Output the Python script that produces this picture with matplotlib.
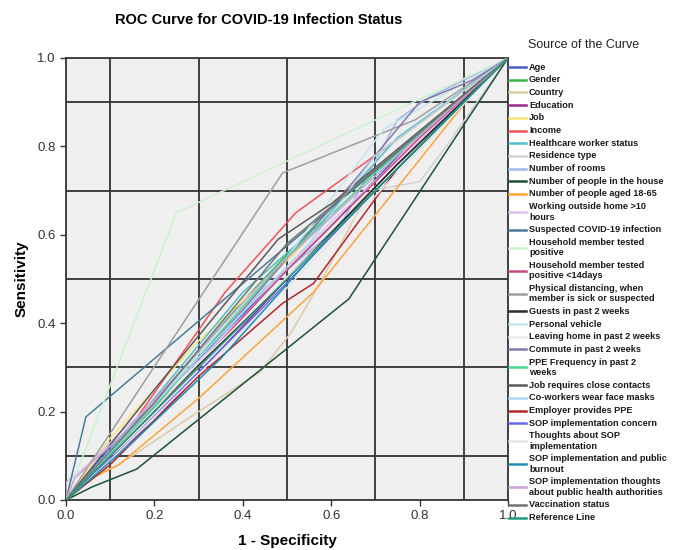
import matplotlib

matplotlib.use("Agg")
import matplotlib.pyplot as plt
from matplotlib.lines import Line2D

plt.rcParams["font.family"] = ["Liberation Sans", "DejaVu Sans"]

W, H = 683, 550

# legend order = drawing order (SPSS draws later curves on top)
curve_names = [
    "Age", "Gender", "Country", "Education", "Job", "Income",
    "Healthcare worker status", "Residence type", "Number of rooms",
    "Number of people in the house", "Number of people aged 18-65",
    "Working outside home >10\nhours", "Suspected COVID-19 infection",
    "Household member tested\npositive", "Household member tested\npositive <14days",
    "Physical distancing, when\nmember is sick or suspected",
    "Guests in past 2 weeks", "Personal vehicle", "Leaving home in past 2 weeks",
    "Commute in past 2 weeks", "PPE Frequency in past 2\nweeks",
    "Job requires close contacts", "Co-workers wear face masks",
    "Employer provides PPE", "SOP implementation concern",
    "Thoughts about SOP\nimplementation", "SOP implementation and public\nburnout",
    "SOP implementation thoughts\nabout public health authorities",
    "Vaccination status",
]

# 1 - specificity for each curve
curve_fpr = [
    [0, 0.10, 0.35, 0.60, 0.80, 1],
    [0, 0.12, 0.40, 0.60, 1],
    [0, 0.05, 0.12, 0.30, 0.44, 0.51, 0.58, 0.68, 1],
    [0, 0.20, 0.50, 0.75, 1],
    [0, 0.10, 0.30, 0.52, 0.73, 1],
    [0, 0.10, 0.36, 0.52, 0.70, 1],
    [0, 0.15, 0.40, 0.58, 0.75, 1],
    [0, 0.30, 0.69, 0.80, 0.86, 1],
    [0, 0.20, 0.45, 0.62, 0.75, 0.82, 1],
    [0, 0.06, 0.16, 0.64, 1],
    [0, 0.06, 0.12, 0.30, 0.56, 0.92, 1],
    [0, 0.0, 0.05, 0.12, 0.35, 0.60, 1],
    [0, 0.045, 1],
    [0, 0.25, 1],
    [0, 0.20, 0.50, 0.80, 1],
    [0, 0.49, 0.79, 1],
    [0, 0.15, 0.48, 0.75, 1],
    [0, 0.20, 0.50, 0.72, 1],
    [0, 0.30, 0.60, 1],
    [0, 0.15, 0.40, 0.65, 0.80, 0.92, 1],
    [0, 0.20, 0.50, 0.70, 1],
    [0, 0.20, 0.48, 0.60, 1],
    [0, 0.25, 0.55, 0.70, 1],
    [0, 0.10, 0.30, 0.49, 0.56, 0.75, 1],
    [0, 0.15, 0.45, 0.70, 1],
    [0, 0.10, 0.50, 1],
    [0, 0.15, 0.35, 0.60, 1],
    [0, 0.02, 0.12, 0.45, 0.75, 1],
    [0, 0.20, 0.50, 1],
]

# sensitivity for each curve
curve_tpr = [
    [0, 0.12, 0.37, 0.62, 0.83, 1],
    [0, 0.13, 0.45, 0.66, 1],
    [0, 0.05, 0.08, 0.20, 0.29, 0.38, 0.50, 0.69, 1],
    [0, 0.18, 0.50, 0.76, 1],
    [0, 0.14, 0.36, 0.56, 0.80, 1],
    [0, 0.10, 0.47, 0.65, 0.78, 1],
    [0, 0.17, 0.47, 0.63, 0.82, 1],
    [0, 0.30, 0.70, 0.72, 0.80, 1],
    [0, 0.20, 0.48, 0.62, 0.86, 0.91, 1],
    [0, 0.03, 0.07, 0.455, 1],
    [0, 0.05, 0.08, 0.23, 0.47, 0.92, 1],
    [0, 0.04, 0.08, 0.15, 0.36, 0.63, 1],
    [0, 0.188, 1],
    [0, 0.65, 1],
    [0, 0.20, 0.52, 0.82, 1],
    [0, 0.74, 0.86, 1],
    [0, 0.16, 0.48, 0.76, 1],
    [0, 0.22, 0.55, 0.84, 1],
    [0, 0.31, 0.60, 1],
    [0, 0.16, 0.43, 0.72, 0.90, 0.95, 1],
    [0, 0.21, 0.55, 0.74, 1],
    [0, 0.25, 0.59, 0.67, 1],
    [0, 0.27, 0.58, 0.78, 1],
    [0, 0.08, 0.28, 0.445, 0.49, 0.75, 1],
    [0, 0.14, 0.44, 0.70, 1],
    [0, 0.09, 0.48, 1],
    [0, 0.13, 0.32, 0.60, 1],
    [0, 0.05, 0.14, 0.50, 0.78, 1],
    [0, 0.22, 0.58, 1],
]

ref_name = "Reference Line"
ref_fpr = [0, 1]
ref_tpr = [0, 1]

colors = [
    "#4a5fc1", "#3cb44b", "#dccba6", "#9b2a8a", "#f8e577", "#f0535a",
    "#50bdd0", "#d2d2d2", "#9fb9e8", "#1d5237", "#fca43a", "#dcc0ee",
    "#4a7c99", "#ccf2cc", "#cc4a80", "#9e9e9e", "#2b2b2b", "#c4e6f0",
    "#ececec", "#8878a8", "#4ad48a", "#5a5a5a", "#b0d4f0", "#b3262a",
    "#6a6af0", "#e6e6e6", "#1f8fb2", "#c9a3d8", "#737373",
]
ref_color = "#20987a"

fig = plt.figure(figsize=(W / 100, H / 100), dpi=100)
ax = fig.add_axes([66 / W, 1 - 500 / H, 442 / W, 442 / H])
ax.set_facecolor("#efefef")

for fpr, tpr, c in zip(curve_fpr, curve_tpr, colors):
    ax.plot(fpr, tpr, color=c, linewidth=1.1, zorder=3)
ax.plot(ref_fpr, ref_tpr, color=ref_color, linewidth=1.1, zorder=3)

ax.set_xlim(0, 1)
ax.set_ylim(0, 1)
ticks = [0, 0.2, 0.4, 0.6, 0.8, 1.0]
ax.set_xticks(ticks)
ax.set_yticks(ticks)
ax.set_xticklabels([f"{t:.1f}" for t in ticks])
ax.set_yticklabels([f"{t:.1f}" for t in ticks])
odd = [0.1, 0.3, 0.5, 0.7, 0.9]
ax.set_xticks(odd, minor=True)
ax.set_yticks(odd, minor=True)
ax.tick_params(which="minor", length=0)
ax.tick_params(which="major", length=4, width=1, color="#333333",
               labelsize=9.5, labelcolor="#333333", direction="out")
ax.grid(which="minor", color="#333333", linewidth=1.3, zorder=1)
ax.grid(which="major", visible=False)
ax.set_axisbelow(True)
for sp in ax.spines.values():
    sp.set_color("#333333")
    sp.set_linewidth(1.3)

ax.set_xlabel("1 - Specificity", fontsize=11, fontweight="bold", labelpad=8)
ax.set_ylabel("Sensitivity", fontsize=11, fontweight="bold", labelpad=6)

fig.text(259 / W, 1 - 20 / H, "ROC Curve for COVID-19 Infection Status",
         fontsize=10.5, fontweight="bold", ha="center", va="center")

# legend, drawn by hand to match the SPSS layout
fig.text(528 / W, 1 - 45 / H, "Source of the Curve", fontsize=9,
         ha="left", va="center", color="#222222")
y = 67.0
step, wrap_extra = 12.7, 10.3
for name, c in zip(curve_names + [ref_name], colors + [ref_color]):
    n_lines = name.count("\n") + 1
    yc = y + (n_lines - 1) * 5.2
    fig.add_artist(Line2D([509 / W, 526 / W], [1 - yc / H, 1 - yc / H],
                          color=c, linewidth=1.8, transform=fig.transFigure))
    fig.text(529 / W, 1 - yc / H, name, fontsize=6.6, fontweight="bold",
             ha="left", va="center", linespacing=1.25, color="#1a1a1a")
    y += step + (n_lines - 1) * wrap_extra

fig.savefig("out.png", dpi=100)
